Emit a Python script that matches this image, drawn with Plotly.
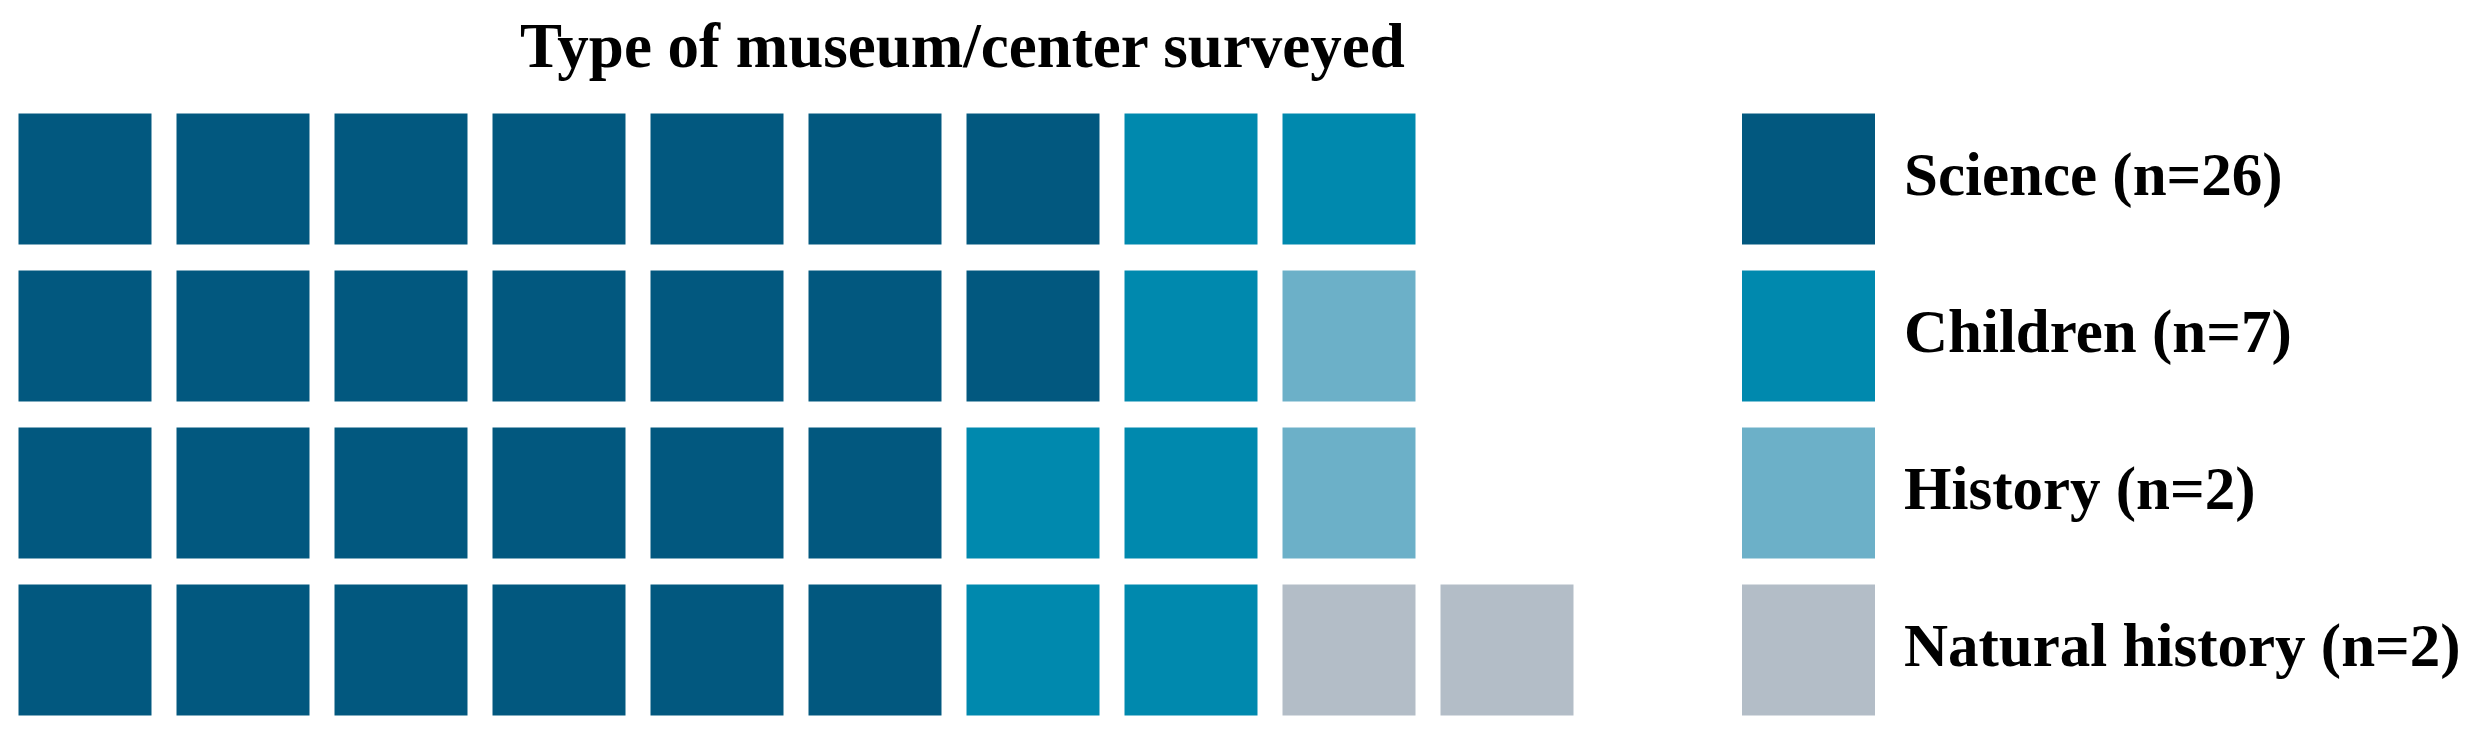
import numpy as np
import plotly.graph_objects as go

# Museum types and counts
categories = ["Science", "Children", "History", "Natural history"]
counts = [26, 7, 2, 2]
colors = ["#02587f", "#0089ae", "#6cb0c8", "#b3bdc7"]

n_rows = 4
total = sum(counts)
n_cols = int(np.ceil(total / n_rows))

# Fill the waffle grid column by column; a partial last column sits at the bottom
z = np.full((n_rows, n_cols), np.nan)
cells = [i for i, c in enumerate(counts) for _ in range(c)]
for k, cat in enumerate(cells):
    col, row = divmod(k, n_rows)
    if col == n_cols - 1 and total % n_rows:
        row += n_rows - total % n_rows
    z[row, col] = cat

ncat = len(categories)
colorscale = []
for i, c in enumerate(colors):
    colorscale.append([i / ncat, c])
    colorscale.append([(i + 1) / ncat, c])

# Pixel geometry (cell pitch and gap)
W, H = 2474, 734
pitch_x, pitch_y = 158, 157
gap_x, gap_y = 25, 26
x_left = -0.5 + 1.5 / pitch_x
y_top = -0.5 - 92.5 / pitch_y
legend_x = x_left + 1801 / pitch_x

fig = go.Figure()

fig.add_trace(go.Heatmap(
    z=z, x=list(range(n_cols)), y=list(range(n_rows)),
    zmin=-0.5, zmax=ncat - 0.5, colorscale=colorscale,
    xgap=gap_x, ygap=gap_y, showscale=False,
    hoverinfo="skip",
))

# Legend squares drawn as a one-column heatmap aligned with the rows
fig.add_trace(go.Heatmap(
    z=[[i] for i in range(ncat)], x0=legend_x, dx=1, y=list(range(ncat)),
    zmin=-0.5, zmax=ncat - 0.5, colorscale=colorscale,
    xgap=gap_x, ygap=gap_y, showscale=False,
    hoverinfo="skip",
))

font = dict(family="Liberation Serif", size=61, color="black", weight="bold")

for i, (cat, n) in enumerate(zip(categories, counts)):
    fig.add_annotation(
        x=legend_x + 0.5, y=i, xref="x", yref="y",
        text=f"{cat} (n={n})", showarrow=False,
        xanchor="left", yanchor="middle", xshift=14, yshift=4,
        font=font,
    )

fig.add_annotation(
    x=955 / W, y=1 - 38 / H, xref="paper", yref="paper",
    text="Type of museum/center surveyed", showarrow=False,
    xanchor="center", yanchor="middle", font=dict(font, size=63),
)

fig.update_xaxes(range=[x_left, x_left + W / pitch_x], visible=False, fixedrange=True)
fig.update_yaxes(range=[y_top + H / pitch_y, y_top], visible=False, fixedrange=True)

fig.update_layout(
    width=W, height=H,
    margin=dict(l=0, r=0, t=0, b=0),
    paper_bgcolor="white", plot_bgcolor="white",
    showlegend=False,
)

fig.write_html("out.html")
